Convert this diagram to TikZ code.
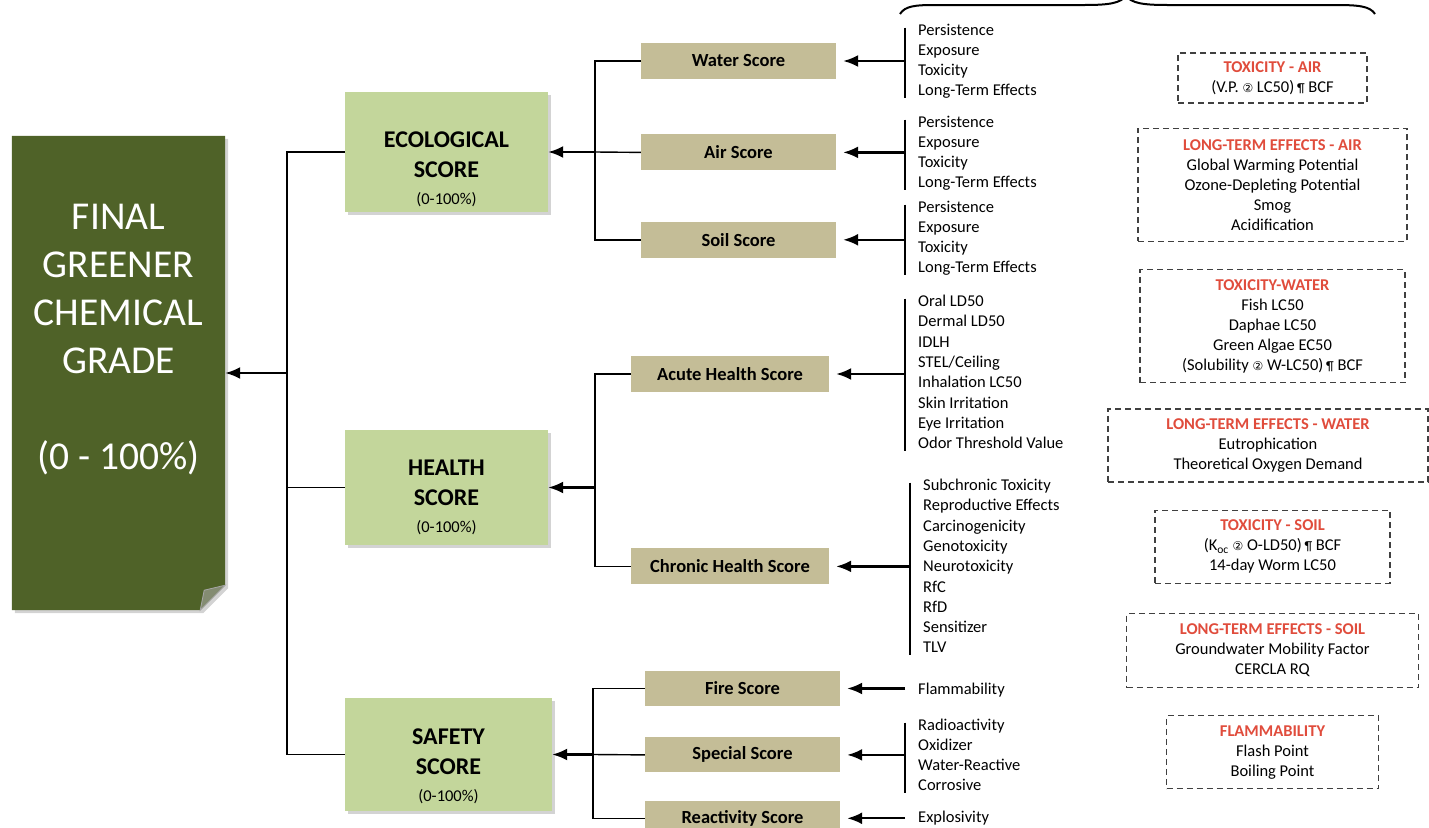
\documentclass[tikz,border=0pt]{standalone}
\usepackage{fontspec}
\setmainfont{Carlito}
\newfontfamily\symfont{DejaVu Sans}
\usetikzlibrary{positioning, arrows.meta, backgrounds, shadows}
\definecolor{olive}{HTML}{4F6228}
\definecolor{leaf}{HTML}{C3D69B}
\definecolor{khaki}{HTML}{C4BD97}
\definecolor{alert}{RGB}{224,76,60}
\newcommand{\itemsize}{\fontsize{16.5}{20}\selectfont}
\newcommand{\notehead}[1]{{\color{alert}\bfseries #1}}
\newcommand{\opsym}{{\symfont\fontsize{12}{12}\selectfont ②}}
\newcommand{\parsym}{\,{\fontsize{13}{13}\selectfont ¶}}

\begin{document}
\begin{tikzpicture}[
            x = 1pt, y = -1pt, % pixel grid, y downwards
            > = {Latex[length=15pt, width=12pt]},
            arr/.style = {->, line width=2.2pt},
            link/.style = {line width=1.4pt},
            grade/.style = {rectangle, fill=leaf, minimum width=203pt,
                drop shadow={shadow xshift=3pt, shadow yshift=-3pt, opacity=.35}},
            gradetext/.style = {align=center, inner sep=0pt,
                font=\fontsize{24}{30}\selectfont\bfseries},
            scorebox/.style = {rectangle, fill=khaki, minimum width=195pt,
                minimum height=36pt, inner sep=0pt,
                font=\fontsize{18.5}{22}\selectfont\bfseries},
            item/.style = {anchor=west, inner sep=0pt, text height=12pt,
                text depth=4pt, font=\itemsize},
            note/.style = {draw=black!75, line width=1.3pt,
                dash pattern=on 6pt off 4pt, align=center, inner sep=0pt,
                font=\itemsize}
            ]

    \useasboundingbox (0,0) rectangle (1429,827);
    \clip (0,0) rectangle (1429,827);

    % final grade
    \node (final) [minimum width=213pt, minimum height=474pt] at (118.5,373) {};
    \node (finaltext) [align=center, inner sep=0pt, text=white,
        font=\fontsize{39.5}{48}\selectfont] at (118.5,340)
        {FINAL\\GREENER\\CHEMICAL\\GRADE\\[48pt](0 - 100\%)};
    \begin{scope}[on background layer]
        \fill[olive, drop shadow={shadow xshift=3pt, shadow yshift=-3pt, opacity=.35}]
            (final.north west) -- (final.north east) -- ([yshift=25pt]final.south east)
            -- ([xshift=-25pt]final.south east) -- (final.south west) -- cycle;
        \filldraw[fill=olive!55!gray!80, draw=gray!70, line width=.8pt]
            ([yshift=25pt]final.south east) -- ([xshift=-25pt]final.south east)
            -- ([xshift=-21pt, yshift=20pt]final.south east) -- cycle;
    \end{scope}

    % category scores
    \node[grade, minimum height=120pt] (eco) at (446.5,152) {};
    \node[gradetext] (ecotext) at (446.5,169)
        {ECOLOGICAL\\SCORE\\[-3pt]{\normalfont\itemsize (0-100\%)}};
    \node[grade, minimum height=115pt] (health) at (446.5,487.5) {};
    \node[gradetext] (healthtext) at (446.5,497)
        {HEALTH\\SCORE\\[-3pt]{\normalfont\itemsize (0-100\%)}};
    \node[grade, minimum width=207pt, minimum height=113pt] (safety) at (448.5,754.5) {};
    \node[gradetext] (safetytext) at (448.5,766)
        {SAFETY\\SCORE\\[-3pt]{\normalfont\itemsize (0-100\%)}};

    \coordinate (trunk) at (287,373);
    \draw[link] (eco.west) -| (trunk) |- (safety.west);
    \draw[link] (health.west) -- (health.west -| trunk);
    \draw[arr] (trunk) -- (final.east);

    % ecological sub-scores
    \node[scorebox] (water) at (738.5,61) {Water Score};
    \node[scorebox] (air) [below=55pt of water] {Air Score};
    \node[scorebox] (soil) [below=51pt of air] {Soil Score};

    \coordinate (ecojoin) at (595,152);
    \draw[link] (water.west) -| (ecojoin) |- (soil.west);
    \draw[link] (air.west) -- (ecojoin);
    \draw[arr] (ecojoin) -- (eco.east);

    % health sub-scores
    \node[scorebox, minimum width=198pt] (acute) at (730,374) {Acute Health Score};
    \node[scorebox, minimum width=198pt] (chronic) [below=156pt of acute] {Chronic Health Score};

    \coordinate (healthjoin) at (595,487.5);
    \draw[link] (acute.west) -| (healthjoin) |- (chronic.west);
    \draw[arr] (healthjoin) -- (health.east);

    % safety sub-scores
    \node[scorebox, minimum height=35pt] (fire) at (742.5,688.5) {Fire Score};
    \node[scorebox, minimum height=35pt] (special) [below=31pt of fire] {Special Score};
    \node[scorebox, minimum height=35pt] (react) [below=28pt of special] {Reactivity Score};

    \coordinate (safejoin) at (593,754.5);
    \draw[link] (fire.west) -| (safejoin) |- (react.west);
    \draw[link] (special.west) -- (safejoin);
    \draw[arr] (safejoin) -- (safety.east);

    % water list
    \foreach \txt [count=\i] in {Persistence, Exposure, Toxicity, Long-Term Effects}
        \node[item] (w\i) at (918,{11.5+20*\i}) {\txt};
    \coordinate (wtop) at ([shift={(-13pt,4pt)}]w1.west);
    \coordinate (wbot) at ([shift={(-13pt,-6pt)}]w4.west);
    \draw[link] (wtop) -- (wbot);
    \draw[arr] (wtop |- water.east) -- ([xshift=7pt]water.east);

    % air list
    \foreach \txt [count=\i] in {Persistence, Exposure, Toxicity, Long-Term Effects}
        \node[item] (a\i) at (918,{103.5+20*\i}) {\txt};
    \coordinate (atop) at ([shift={(-13pt,4pt)}]a1.west);
    \coordinate (abot) at ([shift={(-13pt,-6pt)}]a4.west);
    \draw[link] (atop) -- (abot);
    \draw[arr] (atop |- air.east) -- ([xshift=7pt]air.east);

    % soil list
    \foreach \txt [count=\i] in {Persistence, Exposure, Toxicity, Long-Term Effects}
        \node[item] (s\i) at (918,{188.5+20*\i}) {\txt};
    \coordinate (stop) at ([shift={(-13pt,4pt)}]s1.west);
    \coordinate (sbot) at ([shift={(-13pt,-6pt)}]s4.west);
    \draw[link] (stop) -- (sbot);
    \draw[arr] (stop |- soil.east) -- ([xshift=7pt]soil.east);

    % acute health list
    \foreach \txt [count=\i] in {Oral LD50, Dermal LD50, IDLH, STEL/Ceiling,
            Inhalation LC50, Skin Irritation, Eye Irritation, Odor Threshold Value}
        \node[item] (h\i) at (918,{282.2+20.3*\i}) {\txt};
    \coordinate (htop) at ([shift={(-13pt,4pt)}]h1.west);
    \coordinate (hbot) at ([shift={(-13pt,-6pt)}]h8.west);
    \draw[link] (htop) -- (hbot);
    \draw[arr] (htop |- acute.east) -- ([xshift=7pt]acute.east);

    % chronic health list
    \foreach \txt [count=\i] in {Subchronic Toxicity, Reproductive Effects,
            Carcinogenicity, Genotoxicity, Neurotoxicity, RfC, RfD, Sensitizer, TLV}
        \node[item] (c\i) at (923,{466.2+20.3*\i}) {\txt};
    \coordinate (ctop) at ([shift={(-13pt,4pt)}]c1.west);
    \coordinate (cbot) at ([shift={(-13pt,-6pt)}]c9.west);
    \draw[link] (ctop) -- (cbot);
    \draw[arr] (ctop |- chronic.east) -- ([xshift=7pt]chronic.east);

    % safety lists
    \node[item] (f1) at (918,690) {Flammability};
    \draw[arr] ([xshift=-13pt]f1.west |- fire.east) -- ([xshift=7pt]fire.east);

    \foreach \txt [count=\i] in {Radioactivity, Oxidizer, Water-Reactive, Corrosive}
        \node[item] (sp\i) at (918,{706.5+20*\i}) {\txt};
    \coordinate (sptop) at ([shift={(-13pt,4pt)}]sp1.west);
    \coordinate (spbot) at ([shift={(-13pt,-6pt)}]sp4.west);
    \draw[link] (sptop) -- (spbot);
    \draw[arr] (sptop |- special.east) -- ([xshift=7pt]special.east);

    \node[item] (r1) at (918,818.5) {Explosivity};
    \draw[arr] ([xshift=-13pt]r1.west |- react.east) -- ([xshift=7pt]react.east);

    % brace over the lists
    \draw[line width=2pt] (900,14) .. controls (905,6) and (915,5) .. (935,5)
        -- (1085,5) .. controls (1110,5) and (1120,3) .. (1126,-4)
        .. controls (1132,3) and (1142,5) .. (1167,5)
        -- (1335,5) .. controls (1358,5) and (1370,6) .. (1375,14);

    % definitions
    \node[note, minimum width=189pt, minimum height=50pt] (toxair) at (1272.5,78)
        {\notehead{TOXICITY - AIR}\\(V.P. \opsym{} LC50)\parsym{} BCF};
    \node[note, minimum width=269pt, minimum height=113pt] (ltair) [below=24pt of toxair]
        {\notehead{LONG-TERM EFFECTS - AIR}\\Global Warming Potential\\
         Ozone-Depleting Potential\\Smog\\Acidification};
    \node[note, minimum width=265pt, minimum height=113pt] (toxwater) [below=27pt of ltair]
        {\notehead{TOXICITY-WATER}\\Fish LC50\\Daphae LC50\\Green Algae EC50\\
         (Solubility \opsym{} W-LC50)\parsym{} BCF};
    \node[note, minimum width=320pt, minimum height=73pt] (ltwater)
        [below=25pt of toxwater, xshift=-4.5pt]
        {\notehead{LONG-TERM EFFECTS - WATER}\\Eutrophication\\Theoretical Oxygen Demand};
    \node[note, minimum width=235pt, minimum height=73pt] (toxsoil)
        [below=27pt of ltwater, xshift=4.5pt]
        {\notehead{TOXICITY - SOIL}\\(K\textsubscript{oc} \opsym{} O-LD50)\parsym{} BCF\\
         14-day Worm LC50};
    \node[note, minimum width=292pt, minimum height=74pt] (ltsoil) [below=29pt of toxsoil]
        {\notehead{LONG-TERM EFFECTS - SOIL}\\Groundwater Mobility Factor\\CERCLA RQ};
    \node[note, minimum width=212pt, minimum height=73pt] (flam) [below=27pt of ltsoil]
        {\notehead{FLAMMABILITY}\\Flash Point\\Boiling Point};

\end{tikzpicture}
\end{document}
